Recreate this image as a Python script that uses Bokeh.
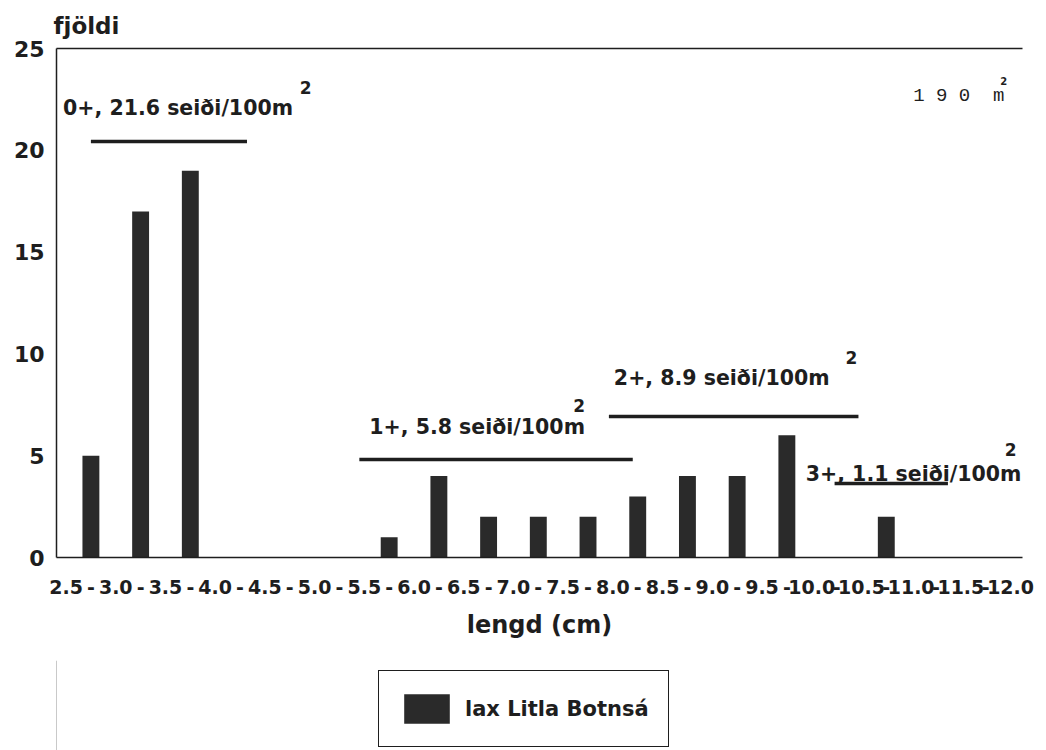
from bokeh.plotting import figure
from bokeh.layouts import column
from bokeh.models import FixedTicker, LinearAxis, Legend, LegendItem, Range1d, Title
from bokeh.core.properties import value
from bokeh.embed import file_html
from bokeh.resources import INLINE

# ---- data ----
bin_edges = [2.5, 3.0, 3.5, 4.0, 4.5, 5.0, 5.5, 6.0, 6.5, 7.0, 7.5, 8.0,
             8.5, 9.0, 9.5, 10.0, 10.5, 11.0, 11.5, 12.0]
edge_labels = ["2.5", "3.0", "3.5", "4.0", "4.5", "5.0", "5.5", "6.0", "6.5", "7.0",
               "7.5", "8.0", "8.5", "9.0", "9.5", "10.0", "10.5", "11.0", "11.5", "12.0"]
counts = [5, 17, 19, 0, 0, 0, 1, 4, 2, 2, 2, 3, 4, 4, 6, 0, 2, 0, 0]
series_name = "lax Litla Botnsá"

age_groups = ["0+", "1+", "2+", "3+"]
densities = ["21.6", "5.8", "8.9", "1.1"]
group_from = [2.75, 5.45, 7.96, 10.23]
group_to = [4.32, 8.20, 10.47, 11.37]
area_text = "1 9 0\u00a0 m"

FONT = "DejaVu Sans"
INK = "#1e1e1e"
BAR = "#2a2a2a"

centers = [(a + b) / 2 for a, b in zip(bin_edges[:-1], bin_edges[1:])]

p = figure(width=1036, height=660, x_range=Range1d(2.404, 12.12), y_range=Range1d(0, 25),
           output_backend="svg", toolbar_location=None,
           min_border_left=56, min_border_right=14, min_border_top=48, min_border_bottom=103)
p.outline_line_color = None
p.xgrid.visible = False
p.ygrid.visible = False

bars = p.vbar(x=centers, top=counts, width=0.17, fill_color=BAR, line_color=None)

# x axis: boundaries labelled, dashes between
ticks = list(bin_edges) + centers
overrides = {e: l for e, l in zip(bin_edges, edge_labels)}
overrides.update({c: "-" for c in centers})
xa = p.xaxis[0]
xa.ticker = FixedTicker(ticks=ticks)
xa.major_label_overrides = overrides
xa.major_tick_line_color = None
xa.minor_tick_line_color = None
xa.major_label_text_font = FONT
xa.major_label_text_font_style = "bold"
xa.major_label_text_font_size = "19px"
xa.major_label_text_color = INK
xa.major_label_standoff = 16
xa.axis_line_color = INK
xa.axis_line_width = 1.5
xa.axis_label = "lengd (cm)"
xa.axis_label_text_font = FONT
xa.axis_label_text_font_style = "bold"
xa.axis_label_text_font_size = "24px"
xa.axis_label_text_color = INK
xa.axis_label_standoff = 14

ya = p.yaxis[0]
ya.ticker = FixedTicker(ticks=[0, 5, 10, 15, 20, 25])
ya.major_tick_line_color = None
ya.minor_tick_line_color = None
ya.major_label_text_font = FONT
ya.major_label_text_font_style = "bold"
ya.major_label_text_font_size = "22px"
ya.major_label_text_color = INK
ya.major_label_standoff = 6
ya.axis_line_color = INK
ya.axis_line_width = 1.5

top_axis = LinearAxis(ticker=FixedTicker(ticks=[]), major_tick_line_color=None,
                      minor_tick_line_color=None, axis_line_color=INK, axis_line_width=1.5)
p.add_layout(top_axis, "above")

p.add_layout(Title(text="fjöldi", align="left", text_font=FONT, text_font_style="bold",
                   text_font_size="23px", text_color=INK, offset=-3, standoff=20), "above")

# age-group annotations
label_x = [2.47, 5.55, 8.01, 9.94]
label_y = [22.1, 6.43, 8.8, 4.12]
line_y = [20.43, 4.81, 6.93, 3.63]
sup_x = [4.91, 7.66, 10.40, 12.0]
sup_y = [23.09, 7.47, 9.83, 5.31]
p.segment(x0=group_from, x1=group_to, y0=line_y, y1=line_y, line_color=INK, line_width=3.5)
p.text(x=label_x, y=label_y,
       text=[f"{a}, {d} seiði/100m" for a, d in zip(age_groups, densities)],
       text_font=value(FONT), text_font_style="bold", text_font_size="20.5px",
       text_color=INK, text_align="left", text_baseline="alphabetic")
p.text(x=sup_x, y=sup_y, text=["2"] * 4, text_font=value(FONT), text_font_style="bold",
       text_font_size="17px", text_color=INK, text_align="center", text_baseline="alphabetic")

p.text(x=[11.02], y=[22.65], text=[area_text], text_font=value("Liberation Mono"),
       text_font_size="19px", text_color=INK, text_align="left", text_baseline="alphabetic")
p.text(x=[11.93], y=[23.4], text=["2"], text_font=value(FONT), text_font_style="bold",
       text_font_size="10px", text_color=INK, text_align="center", text_baseline="alphabetic")

# legend in its own strip below the chart
lg = figure(width=1036, height=90, output_backend="svg", toolbar_location=None,
            x_range=Range1d(0, 1), y_range=Range1d(0, 1), min_border=0,
            x_axis_type=None, y_axis_type=None)
lg.grid.visible = False
lg.outline_line_color = None
lg.border_fill_color = None
lg.background_fill_color = None
swatch = lg.vbar(x=[-10], top=[1], width=0.1, fill_color=BAR, line_color=None)
legend = Legend(items=[LegendItem(label=series_name, renderers=[swatch])], location=(322, 3),
                orientation="horizontal", border_line_color=INK, border_line_width=1.5,
                border_line_alpha=1.0,
                glyph_width=57, glyph_height=37, label_text_font=FONT, label_text_font_style="bold",
                label_text_font_size="21px", label_text_color=INK, padding=19, label_standoff=10,
                background_fill_alpha=0, margin=0)
lg.add_layout(legend)

layout = column(p, lg, spacing=0)
open("out.html", "w").write(file_html(layout, INLINE))
